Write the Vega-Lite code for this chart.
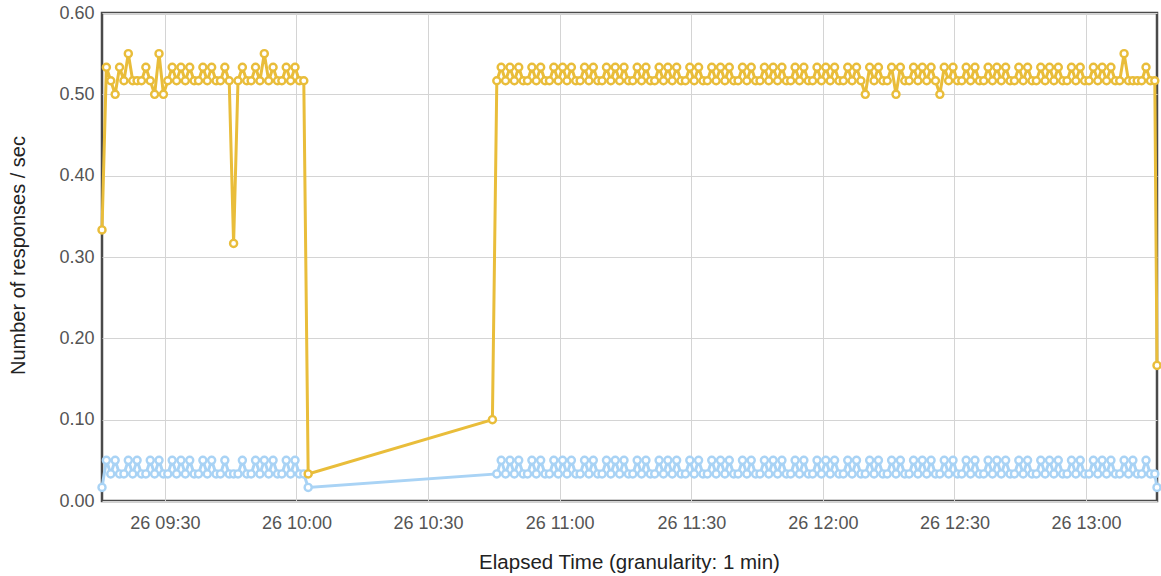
{
  "$schema": "https://vega.github.io/schema/vega-lite/v6.json",
  "width": 1055,
  "height": 488,
  "autosize": {"type": "none"},
  "padding": {"left": 102, "top": 13, "right": 4, "bottom": 75},
  "background": "white",
  "config": {
    "font": "Liberation Sans",
    "view": {"stroke": "#4a4a4a", "strokeWidth": 2.5}
  },
  "data": {
    "values": [
      {"t": "2019-03-26T09:15:40", "a": 0.3333, "b": 0.0167},
      {"t": "2019-03-26T09:16:40", "a": 0.5333, "b": 0.05},
      {"t": "2019-03-26T09:17:40", "a": 0.5167, "b": 0.0333},
      {"t": "2019-03-26T09:18:40", "a": 0.5, "b": 0.05},
      {"t": "2019-03-26T09:19:40", "a": 0.5333, "b": 0.0333},
      {"t": "2019-03-26T09:20:40", "a": 0.5167, "b": 0.0333},
      {"t": "2019-03-26T09:21:40", "a": 0.55, "b": 0.05},
      {"t": "2019-03-26T09:22:40", "a": 0.5167, "b": 0.0333},
      {"t": "2019-03-26T09:23:40", "a": 0.5167, "b": 0.05},
      {"t": "2019-03-26T09:24:40", "a": 0.5167, "b": 0.0333},
      {"t": "2019-03-26T09:25:40", "a": 0.5333, "b": 0.0333},
      {"t": "2019-03-26T09:26:40", "a": 0.5167, "b": 0.05},
      {"t": "2019-03-26T09:27:40", "a": 0.5, "b": 0.0333},
      {"t": "2019-03-26T09:28:40", "a": 0.55, "b": 0.05},
      {"t": "2019-03-26T09:29:40", "a": 0.5, "b": 0.0333},
      {"t": "2019-03-26T09:30:40", "a": 0.5167, "b": 0.0333},
      {"t": "2019-03-26T09:31:40", "a": 0.5333, "b": 0.05},
      {"t": "2019-03-26T09:32:40", "a": 0.5167, "b": 0.0333},
      {"t": "2019-03-26T09:33:40", "a": 0.5333, "b": 0.05},
      {"t": "2019-03-26T09:34:40", "a": 0.5167, "b": 0.0333},
      {"t": "2019-03-26T09:35:40", "a": 0.5333, "b": 0.05},
      {"t": "2019-03-26T09:36:40", "a": 0.5167, "b": 0.0333},
      {"t": "2019-03-26T09:37:40", "a": 0.5167, "b": 0.0333},
      {"t": "2019-03-26T09:38:40", "a": 0.5333, "b": 0.05},
      {"t": "2019-03-26T09:39:40", "a": 0.5167, "b": 0.0333},
      {"t": "2019-03-26T09:40:40", "a": 0.5333, "b": 0.05},
      {"t": "2019-03-26T09:41:40", "a": 0.5167, "b": 0.0333},
      {"t": "2019-03-26T09:42:40", "a": 0.5167, "b": 0.0333},
      {"t": "2019-03-26T09:43:40", "a": 0.5333, "b": 0.05},
      {"t": "2019-03-26T09:44:40", "a": 0.5167, "b": 0.0333},
      {"t": "2019-03-26T09:45:40", "a": 0.3167, "b": 0.0333},
      {"t": "2019-03-26T09:46:40", "a": 0.5167, "b": 0.0333},
      {"t": "2019-03-26T09:47:40", "a": 0.5333, "b": 0.05},
      {"t": "2019-03-26T09:48:40", "a": 0.5167, "b": 0.0333},
      {"t": "2019-03-26T09:49:40", "a": 0.5167, "b": 0.0333},
      {"t": "2019-03-26T09:50:40", "a": 0.5333, "b": 0.05},
      {"t": "2019-03-26T09:51:40", "a": 0.5167, "b": 0.0333},
      {"t": "2019-03-26T09:52:40", "a": 0.55, "b": 0.05},
      {"t": "2019-03-26T09:53:40", "a": 0.5167, "b": 0.0333},
      {"t": "2019-03-26T09:54:40", "a": 0.5333, "b": 0.05},
      {"t": "2019-03-26T09:55:40", "a": 0.5167, "b": 0.0333},
      {"t": "2019-03-26T09:56:40", "a": 0.5167, "b": 0.0333},
      {"t": "2019-03-26T09:57:40", "a": 0.5333, "b": 0.05},
      {"t": "2019-03-26T09:58:40", "a": 0.5167, "b": 0.0333},
      {"t": "2019-03-26T09:59:40", "a": 0.5333, "b": 0.05},
      {"t": "2019-03-26T10:00:40", "a": 0.5167, "b": 0.0333},
      {"t": "2019-03-26T10:01:40", "a": 0.5167, "b": 0.0333},
      {"t": "2019-03-26T10:02:40", "a": 0.0333, "b": 0.0167},
      {"t": "2019-03-26T10:44:40", "a": 0.1},
      {"t": "2019-03-26T10:45:40", "a": 0.5167, "b": 0.0333},
      {"t": "2019-03-26T10:46:40", "a": 0.5333, "b": 0.05},
      {"t": "2019-03-26T10:47:40", "a": 0.5167, "b": 0.0333},
      {"t": "2019-03-26T10:48:40", "a": 0.5333, "b": 0.05},
      {"t": "2019-03-26T10:49:40", "a": 0.5167, "b": 0.0333},
      {"t": "2019-03-26T10:50:40", "a": 0.5333, "b": 0.05},
      {"t": "2019-03-26T10:51:40", "a": 0.5167, "b": 0.0333},
      {"t": "2019-03-26T10:52:40", "a": 0.5167, "b": 0.0333},
      {"t": "2019-03-26T10:53:40", "a": 0.5333, "b": 0.05},
      {"t": "2019-03-26T10:54:40", "a": 0.5167, "b": 0.0333},
      {"t": "2019-03-26T10:55:40", "a": 0.5333, "b": 0.05},
      {"t": "2019-03-26T10:56:40", "a": 0.5167, "b": 0.0333},
      {"t": "2019-03-26T10:57:40", "a": 0.5167, "b": 0.0333},
      {"t": "2019-03-26T10:58:40", "a": 0.5333, "b": 0.05},
      {"t": "2019-03-26T10:59:40", "a": 0.5167, "b": 0.0333},
      {"t": "2019-03-26T11:00:40", "a": 0.5333, "b": 0.05},
      {"t": "2019-03-26T11:01:40", "a": 0.5167, "b": 0.0333},
      {"t": "2019-03-26T11:02:40", "a": 0.5333, "b": 0.05},
      {"t": "2019-03-26T11:03:40", "a": 0.5167, "b": 0.0333},
      {"t": "2019-03-26T11:04:40", "a": 0.5167, "b": 0.0333},
      {"t": "2019-03-26T11:05:40", "a": 0.5333, "b": 0.05},
      {"t": "2019-03-26T11:06:40", "a": 0.5167, "b": 0.0333},
      {"t": "2019-03-26T11:07:40", "a": 0.5333, "b": 0.05},
      {"t": "2019-03-26T11:08:40", "a": 0.5167, "b": 0.0333},
      {"t": "2019-03-26T11:09:40", "a": 0.5167, "b": 0.0333},
      {"t": "2019-03-26T11:10:40", "a": 0.5333, "b": 0.05},
      {"t": "2019-03-26T11:11:40", "a": 0.5167, "b": 0.0333},
      {"t": "2019-03-26T11:12:40", "a": 0.5333, "b": 0.05},
      {"t": "2019-03-26T11:13:40", "a": 0.5167, "b": 0.0333},
      {"t": "2019-03-26T11:14:40", "a": 0.5333, "b": 0.05},
      {"t": "2019-03-26T11:15:40", "a": 0.5167, "b": 0.0333},
      {"t": "2019-03-26T11:16:40", "a": 0.5167, "b": 0.0333},
      {"t": "2019-03-26T11:17:40", "a": 0.5333, "b": 0.05},
      {"t": "2019-03-26T11:18:40", "a": 0.5167, "b": 0.0333},
      {"t": "2019-03-26T11:19:40", "a": 0.5333, "b": 0.05},
      {"t": "2019-03-26T11:20:40", "a": 0.5167, "b": 0.0333},
      {"t": "2019-03-26T11:21:40", "a": 0.5167, "b": 0.0333},
      {"t": "2019-03-26T11:22:40", "a": 0.5333, "b": 0.05},
      {"t": "2019-03-26T11:23:40", "a": 0.5167, "b": 0.0333},
      {"t": "2019-03-26T11:24:40", "a": 0.5333, "b": 0.05},
      {"t": "2019-03-26T11:25:40", "a": 0.5167, "b": 0.0333},
      {"t": "2019-03-26T11:26:40", "a": 0.5333, "b": 0.05},
      {"t": "2019-03-26T11:27:40", "a": 0.5167, "b": 0.0333},
      {"t": "2019-03-26T11:28:40", "a": 0.5167, "b": 0.0333},
      {"t": "2019-03-26T11:29:40", "a": 0.5333, "b": 0.05},
      {"t": "2019-03-26T11:30:40", "a": 0.5167, "b": 0.0333},
      {"t": "2019-03-26T11:31:40", "a": 0.5333, "b": 0.05},
      {"t": "2019-03-26T11:32:40", "a": 0.5167, "b": 0.0333},
      {"t": "2019-03-26T11:33:40", "a": 0.5167, "b": 0.0333},
      {"t": "2019-03-26T11:34:40", "a": 0.5333, "b": 0.05},
      {"t": "2019-03-26T11:35:40", "a": 0.5167, "b": 0.0333},
      {"t": "2019-03-26T11:36:40", "a": 0.5333, "b": 0.05},
      {"t": "2019-03-26T11:37:40", "a": 0.5167, "b": 0.0333},
      {"t": "2019-03-26T11:38:40", "a": 0.5333, "b": 0.05},
      {"t": "2019-03-26T11:39:40", "a": 0.5167, "b": 0.0333},
      {"t": "2019-03-26T11:40:40", "a": 0.5167, "b": 0.0333},
      {"t": "2019-03-26T11:41:40", "a": 0.5333, "b": 0.05},
      {"t": "2019-03-26T11:42:40", "a": 0.5167, "b": 0.0333},
      {"t": "2019-03-26T11:43:40", "a": 0.5333, "b": 0.05},
      {"t": "2019-03-26T11:44:40", "a": 0.5167, "b": 0.0333},
      {"t": "2019-03-26T11:45:40", "a": 0.5167, "b": 0.0333},
      {"t": "2019-03-26T11:46:40", "a": 0.5333, "b": 0.05},
      {"t": "2019-03-26T11:47:40", "a": 0.5167, "b": 0.0333},
      {"t": "2019-03-26T11:48:40", "a": 0.5333, "b": 0.05},
      {"t": "2019-03-26T11:49:40", "a": 0.5167, "b": 0.0333},
      {"t": "2019-03-26T11:50:40", "a": 0.5333, "b": 0.05},
      {"t": "2019-03-26T11:51:40", "a": 0.5167, "b": 0.0333},
      {"t": "2019-03-26T11:52:40", "a": 0.5167, "b": 0.0333},
      {"t": "2019-03-26T11:53:40", "a": 0.5333, "b": 0.05},
      {"t": "2019-03-26T11:54:40", "a": 0.5167, "b": 0.0333},
      {"t": "2019-03-26T11:55:40", "a": 0.5333, "b": 0.05},
      {"t": "2019-03-26T11:56:40", "a": 0.5167, "b": 0.0333},
      {"t": "2019-03-26T11:57:40", "a": 0.5167, "b": 0.0333},
      {"t": "2019-03-26T11:58:40", "a": 0.5333, "b": 0.05},
      {"t": "2019-03-26T11:59:40", "a": 0.5167, "b": 0.0333},
      {"t": "2019-03-26T12:00:40", "a": 0.5333, "b": 0.05},
      {"t": "2019-03-26T12:01:40", "a": 0.5167, "b": 0.0333},
      {"t": "2019-03-26T12:02:40", "a": 0.5333, "b": 0.05},
      {"t": "2019-03-26T12:03:40", "a": 0.5167, "b": 0.0333},
      {"t": "2019-03-26T12:04:40", "a": 0.5167, "b": 0.0333},
      {"t": "2019-03-26T12:05:40", "a": 0.5333, "b": 0.05},
      {"t": "2019-03-26T12:06:40", "a": 0.5167, "b": 0.0333},
      {"t": "2019-03-26T12:07:40", "a": 0.5333, "b": 0.05},
      {"t": "2019-03-26T12:08:40", "a": 0.5167, "b": 0.0333},
      {"t": "2019-03-26T12:09:40", "a": 0.5, "b": 0.0333},
      {"t": "2019-03-26T12:10:40", "a": 0.5333, "b": 0.05},
      {"t": "2019-03-26T12:11:40", "a": 0.5167, "b": 0.0333},
      {"t": "2019-03-26T12:12:40", "a": 0.5333, "b": 0.05},
      {"t": "2019-03-26T12:13:40", "a": 0.5167, "b": 0.0333},
      {"t": "2019-03-26T12:14:40", "a": 0.5167, "b": 0.0333},
      {"t": "2019-03-26T12:15:40", "a": 0.5333, "b": 0.05},
      {"t": "2019-03-26T12:16:40", "a": 0.5, "b": 0.0333},
      {"t": "2019-03-26T12:17:40", "a": 0.5333, "b": 0.05},
      {"t": "2019-03-26T12:18:40", "a": 0.5167, "b": 0.0333},
      {"t": "2019-03-26T12:19:40", "a": 0.5167, "b": 0.0333},
      {"t": "2019-03-26T12:20:40", "a": 0.5333, "b": 0.05},
      {"t": "2019-03-26T12:21:40", "a": 0.5167, "b": 0.0333},
      {"t": "2019-03-26T12:22:40", "a": 0.5333, "b": 0.05},
      {"t": "2019-03-26T12:23:40", "a": 0.5167, "b": 0.0333},
      {"t": "2019-03-26T12:24:40", "a": 0.5333, "b": 0.05},
      {"t": "2019-03-26T12:25:40", "a": 0.5167, "b": 0.0333},
      {"t": "2019-03-26T12:26:40", "a": 0.5, "b": 0.0333},
      {"t": "2019-03-26T12:27:40", "a": 0.5333, "b": 0.05},
      {"t": "2019-03-26T12:28:40", "a": 0.5167, "b": 0.0333},
      {"t": "2019-03-26T12:29:40", "a": 0.5333, "b": 0.05},
      {"t": "2019-03-26T12:30:40", "a": 0.5167, "b": 0.0333},
      {"t": "2019-03-26T12:31:40", "a": 0.5167, "b": 0.0333},
      {"t": "2019-03-26T12:32:40", "a": 0.5333, "b": 0.05},
      {"t": "2019-03-26T12:33:40", "a": 0.5167, "b": 0.0333},
      {"t": "2019-03-26T12:34:40", "a": 0.5333, "b": 0.05},
      {"t": "2019-03-26T12:35:40", "a": 0.5167, "b": 0.0333},
      {"t": "2019-03-26T12:36:40", "a": 0.5167, "b": 0.0333},
      {"t": "2019-03-26T12:37:40", "a": 0.5333, "b": 0.05},
      {"t": "2019-03-26T12:38:40", "a": 0.5167, "b": 0.0333},
      {"t": "2019-03-26T12:39:40", "a": 0.5333, "b": 0.05},
      {"t": "2019-03-26T12:40:40", "a": 0.5167, "b": 0.0333},
      {"t": "2019-03-26T12:41:40", "a": 0.5333, "b": 0.05},
      {"t": "2019-03-26T12:42:40", "a": 0.5167, "b": 0.0333},
      {"t": "2019-03-26T12:43:40", "a": 0.5167, "b": 0.0333},
      {"t": "2019-03-26T12:44:40", "a": 0.5333, "b": 0.05},
      {"t": "2019-03-26T12:45:40", "a": 0.5167, "b": 0.0333},
      {"t": "2019-03-26T12:46:40", "a": 0.5333, "b": 0.05},
      {"t": "2019-03-26T12:47:40", "a": 0.5167, "b": 0.0333},
      {"t": "2019-03-26T12:48:40", "a": 0.5167, "b": 0.0333},
      {"t": "2019-03-26T12:49:40", "a": 0.5333, "b": 0.05},
      {"t": "2019-03-26T12:50:40", "a": 0.5167, "b": 0.0333},
      {"t": "2019-03-26T12:51:40", "a": 0.5333, "b": 0.05},
      {"t": "2019-03-26T12:52:40", "a": 0.5167, "b": 0.0333},
      {"t": "2019-03-26T12:53:40", "a": 0.5333, "b": 0.05},
      {"t": "2019-03-26T12:54:40", "a": 0.5167, "b": 0.0333},
      {"t": "2019-03-26T12:55:40", "a": 0.5167, "b": 0.0333},
      {"t": "2019-03-26T12:56:40", "a": 0.5333, "b": 0.05},
      {"t": "2019-03-26T12:57:40", "a": 0.5167, "b": 0.0333},
      {"t": "2019-03-26T12:58:40", "a": 0.5333, "b": 0.05},
      {"t": "2019-03-26T12:59:40", "a": 0.5167, "b": 0.0333},
      {"t": "2019-03-26T13:00:40", "a": 0.5167, "b": 0.0333},
      {"t": "2019-03-26T13:01:40", "a": 0.5333, "b": 0.05},
      {"t": "2019-03-26T13:02:40", "a": 0.5167, "b": 0.0333},
      {"t": "2019-03-26T13:03:40", "a": 0.5333, "b": 0.05},
      {"t": "2019-03-26T13:04:40", "a": 0.5167, "b": 0.0333},
      {"t": "2019-03-26T13:05:40", "a": 0.5333, "b": 0.05},
      {"t": "2019-03-26T13:06:40", "a": 0.5167, "b": 0.0333},
      {"t": "2019-03-26T13:07:40", "a": 0.5167, "b": 0.0333},
      {"t": "2019-03-26T13:08:40", "a": 0.55, "b": 0.05},
      {"t": "2019-03-26T13:09:40", "a": 0.5167, "b": 0.0333},
      {"t": "2019-03-26T13:10:40", "a": 0.5167, "b": 0.05},
      {"t": "2019-03-26T13:11:40", "a": 0.5167, "b": 0.0333},
      {"t": "2019-03-26T13:12:40", "a": 0.5167, "b": 0.0333},
      {"t": "2019-03-26T13:13:40", "a": 0.5333, "b": 0.05},
      {"t": "2019-03-26T13:14:40", "a": 0.5167, "b": 0.0333},
      {"t": "2019-03-26T13:15:40", "a": 0.5167, "b": 0.0333},
      {"t": "2019-03-26T13:16:10", "a": 0.1667, "b": 0.0167}
    ]
  },
  "transform": [
    {"fold": ["a", "b"], "as": ["s", "v"]},
    {"filter": "isValid(datum.v)"}
  ],
  "encoding": {
    "x": {
      "field": "t",
      "type": "temporal",
      "scale": {"nice": false},
      "axis": {
        "format": "%d %H:%M",
        "values": [
          {"year": 2019, "month": 3, "date": 26, "hours": 9, "minutes": 30},
          {"year": 2019, "month": 3, "date": 26, "hours": 10, "minutes": 0},
          {"year": 2019, "month": 3, "date": 26, "hours": 10, "minutes": 30},
          {"year": 2019, "month": 3, "date": 26, "hours": 11, "minutes": 0},
          {"year": 2019, "month": 3, "date": 26, "hours": 11, "minutes": 30},
          {"year": 2019, "month": 3, "date": 26, "hours": 12, "minutes": 0},
          {"year": 2019, "month": 3, "date": 26, "hours": 12, "minutes": 30},
          {"year": 2019, "month": 3, "date": 26, "hours": 13, "minutes": 0}
        ],
        "grid": true,
        "gridColor": "#d4d4d4",
        "gridWidth": 1,
        "domain": false,
        "ticks": false,
        "labelFont": "Liberation Sans",
        "labelFontSize": 18,
        "labelColor": "#545454",
        "labelPadding": 13,
        "labelFlush": false,
        "labelOverlap": false,
        "title": "Elapsed Time (granularity: 1 min)",
        "titleFont": "Liberation Sans",
        "titleFontSize": 20.5,
        "titleFontWeight": "normal",
        "titleColor": "#222222",
        "titleX": 527,
        "titleY": 61,
        "titleBaseline": "middle",
        "titleAlign": "center"
      }
    },
    "y": {
      "field": "v",
      "type": "quantitative",
      "scale": {"domain": [0, 0.6], "nice": false, "zero": true},
      "axis": {
        "values": [0, 0.1, 0.2, 0.3, 0.4, 0.5, 0.6],
        "format": ".2f",
        "grid": true,
        "gridColor": "#d4d4d4",
        "gridWidth": 1,
        "domain": false,
        "ticks": false,
        "labelFont": "Liberation Sans",
        "labelFontSize": 18,
        "labelColor": "#545454",
        "labelPadding": 8,
        "labelFlush": false,
        "title": "Number of responses / sec",
        "titleFont": "Liberation Sans",
        "titleFontSize": 20,
        "titleFontWeight": "normal",
        "titleColor": "#222222",
        "titleAngle": -90,
        "titleX": -84,
        "titleY": 242,
        "titleBaseline": "middle",
        "titleAlign": "center"
      }
    },
    "stroke": {
      "field": "s",
      "type": "nominal",
      "scale": {"domain": ["a", "b"], "range": ["#e9bd3a", "#a9d3f5"]},
      "legend": null
    }
  },
  "layer": [
    {"mark": {"type": "line", "strokeWidth": 3, "interpolate": "linear"}},
    {"mark": {"type": "point", "shape": "circle", "filled": true, "fill": "white", "strokeWidth": 2.4, "size": 50, "opacity": 1}}
  ]
}
